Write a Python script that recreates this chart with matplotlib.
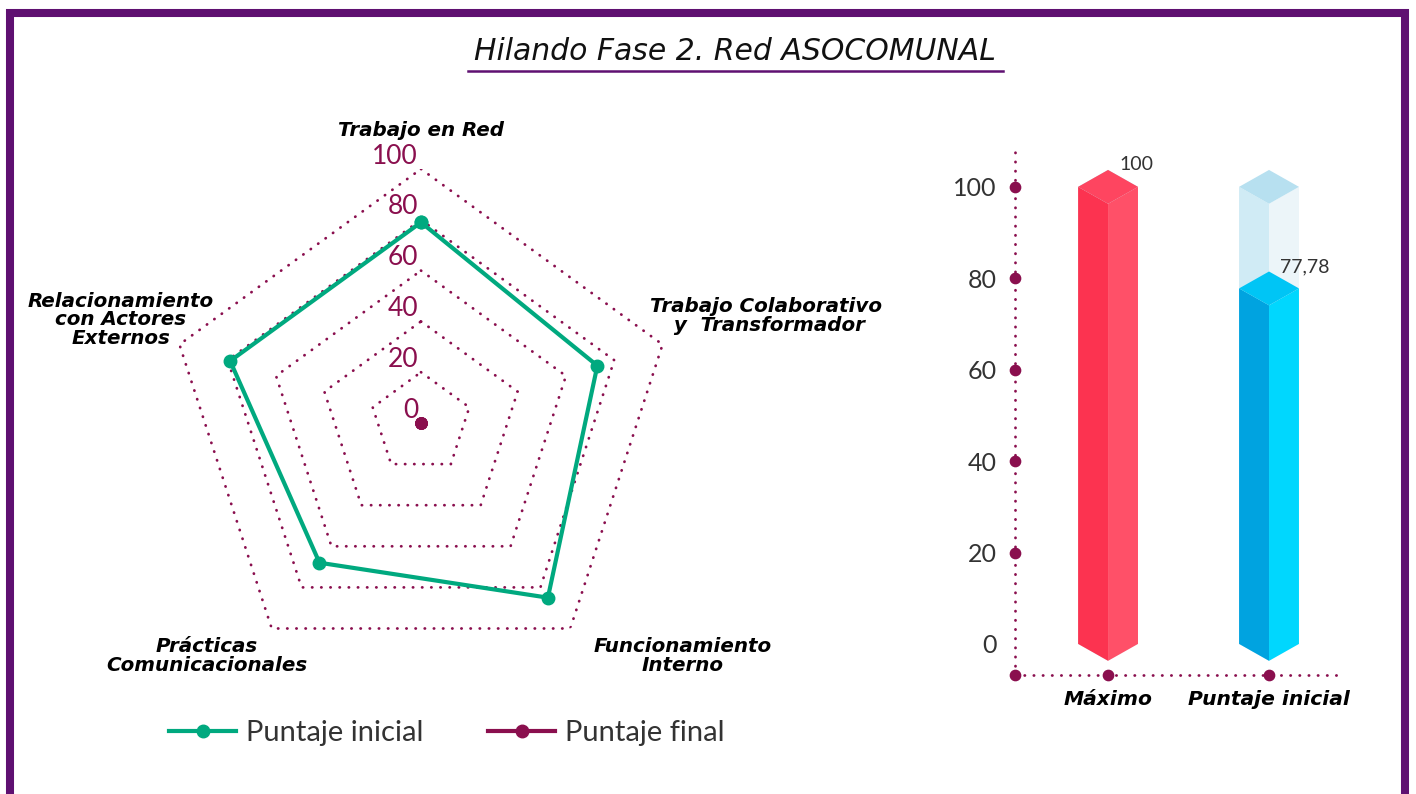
import numpy as np
import matplotlib.pyplot as plt
from matplotlib.patches import Polygon, Rectangle
from matplotlib.lines import Line2D
import matplotlib.transforms as mtransforms

plt.rcParams['font.family'] = ['Lato', 'DejaVu Sans']

# Datos del radar
categorias = ['Trabajo en Red', 'Trabajo Colaborativo\n y  Transformador', 'Funcionamiento\nInterno',
              'Prácticas\nComunicacionales', 'Relacionamiento\ncon Actores\nExternos']
puntaje_inicial = [79, 73, 85, 68, 79]
puntaje_final = [0, 0, 0, 0, 0]
niveles = [0, 20, 40, 60, 80, 100]

# Datos de las barras
barras = ['Máximo', 'Puntaje inicial']
valores_barras = [100, 77.78]
etiquetas_barras = ['100', '77,78']
fondo_barras = [100, 100]

verde = '#00A97F'
granate = '#8A0F4E'
morado = '#5F1071'
gris = '#333333'

W, H = 1416, 794
fig = plt.figure(figsize=(W / 100, H / 100), dpi=100)

# marco
fig.add_artist(Rectangle((10 / W, -0.05), 1395 / W, 1 - 13 / H + 0.05, transform=fig.transFigure,
                         fill=False, ec=morado, lw=5.8))

# titulo
fig.text(735 / W, 1 - 52 / H, 'Hilando Fase 2. Red ASOCOMUNAL', ha='center', va='center',
         fontsize=21.5, style='italic', family='DejaVu Sans', color='#111111')
fig.add_artist(Line2D([468 / W, 1003 / W], [1 - 71 / H] * 2, color=morado, lw=1.8))

# ---- radar ----
R = 254
cx, cy = 421, 423
axr = fig.add_axes([(cx - R) / W, 1 - (cy + R) / H, 2 * R / W, 2 * R / H], projection='polar')
axr.set_theta_offset(np.pi / 2)
axr.set_theta_direction(-1)
axr.set_ylim(0, 100)
axr.grid(False)
axr.spines['polar'].set_visible(False)
axr.set_xticks([])
axr.set_yticks([])
axr.patch.set_alpha(0)

ang = np.linspace(0, 2 * np.pi, len(categorias), endpoint=False)
ang_c = np.append(ang, ang[0])
for n in niveles[1:]:
    axr.plot(ang_c, [n] * len(ang_c), color=granate, lw=2, ls=(0, (0.1, 3.2)),
             dash_capstyle='round', zorder=1)

off = mtransforms.offset_copy(axr.transData, fig=fig, x=-3, y=13, units='dots')
for n in niveles:
    axr.text(0, n, str(n), transform=off, ha='right', va='center', fontsize=19,
             color=granate, zorder=2)

ini = puntaje_inicial + puntaje_inicial[:1]
fin = puntaje_final + puntaje_final[:1]
axr.plot(ang_c, ini, color=verde, lw=3, marker='o', ms=9, zorder=3, label='Puntaje inicial')
axr.plot(ang_c, fin, color=granate, lw=3, marker='o', ms=8, zorder=4, label='Puntaje final')

pos_cat = [(421, 130), (766, 316), (683, 656), (207, 656), (121, 320)]
for txt, (x, y) in zip(categorias, pos_cat):
    fig.text(x / W, 1 - y / H, txt, ha='center', va='center', fontsize=14.3, fontweight='bold',
             style='italic', family='DejaVu Sans', linespacing=0.95, multialignment='center')

h, l = axr.get_legend_handles_labels()
h = [Line2D([0], [0], color=verde, lw=3, marker='o', ms=9),
     Line2D([0], [0], color=granate, lw=3, marker='o', ms=9)]
fig.legend(h, l, loc='center', bbox_to_anchor=(447 / W, 1 - 733 / H), ncol=2, frameon=False,
           handlelength=2.3, handletextpad=0.35, columnspacing=2.2,
           prop={'size': 21}, labelcolor=gris)

# ---- barras ----
axb = fig.add_axes([1015 / W, 1 - 675 / H, 330 / W, 527 / H])
x0, x1 = -0.578, 1.472
y0, y1 = -6.8, 108.5
axb.set_xlim(x0, x1)
axb.set_ylim(y0, y1)
for s in axb.spines.values():
    s.set_visible(False)
axb.axvline(x0, color=granate, lw=2, ls=(0, (0.1, 3.2)), dash_capstyle='round', clip_on=False)
axb.axhline(y0, color=granate, lw=2, ls=(0, (0.1, 3.2)), dash_capstyle='round', clip_on=False)

xs = np.arange(len(barras))
axb.scatter([x0] * 5, niveles[1:], s=55, color=granate, zorder=5, clip_on=False)
axb.scatter([x0] + list(xs), [y0] * (len(xs) + 1), s=55, color=granate, zorder=5, clip_on=False)

axb.set_yticks(niveles)
axb.set_yticklabels([str(n) for n in niveles], fontsize=18, color=gris)
axb.set_xticks(xs)
axb.set_xticklabels(barras, fontsize=14.6, fontweight='bold', style='italic', family='DejaVu Sans')
axb.tick_params(axis='y', length=0, pad=13)
axb.tick_params(axis='x', length=0, pad=11)

w, d = 0.186, 3.7


def prisma(ax, xc, v, c_izq, c_der, c_sup, z):
    ax.add_patch(Polygon([(xc - w, 0), (xc - w, v), (xc, v - d), (xc, -d)], closed=True,
                         fc=c_izq, ec='none', zorder=z))
    ax.add_patch(Polygon([(xc, -d), (xc, v - d), (xc + w, v), (xc + w, 0)], closed=True,
                         fc=c_der, ec='none', zorder=z))
    ax.add_patch(Polygon([(xc - w, v), (xc, v + d), (xc + w, v), (xc, v - d)], closed=True,
                         fc=c_sup, ec='none', zorder=z))


colores = [('#FC3350', '#FF5068', '#FE4560'), ('#00A3E0', '#00D7FE', '#00C5F5')]
for i, (v, f, lbl) in enumerate(zip(valores_barras, fondo_barras, etiquetas_barras)):
    prisma(axb, xs[i], f, '#D0EBF5', '#ECF5F9', '#B7E0F0', 2)
    prisma(axb, xs[i], v, *colores[i], 3)
    axb.text(xs[i] + 0.07, v + 4.8, lbl, ha='left', va='center', fontsize=14, color=gris,
             zorder=6)

fig.savefig('out.png', dpi=100)
